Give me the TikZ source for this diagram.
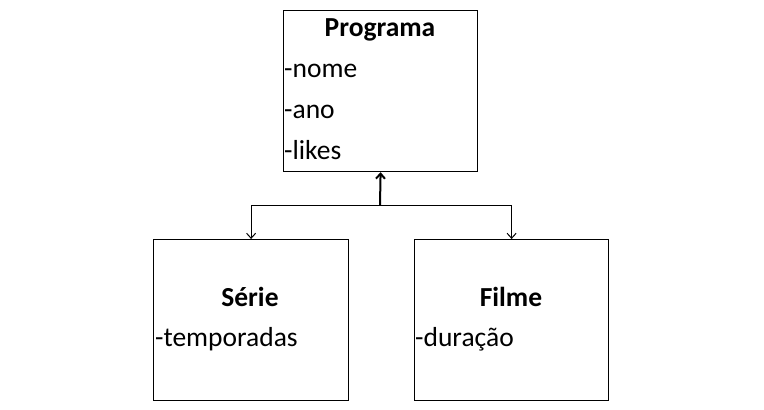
\documentclass[tikz,border=0pt]{standalone}
\usepackage{fontspec}
\setmainfont{Carlito}
\usetikzlibrary{arrows.meta}

\tikzset{
    classbox/.style={draw, line width=1.2pt, inner sep=0pt, anchor=north west},
    titletext/.style={anchor=base, inner sep=0pt, font=\fontsize{27.5}{32}\selectfont\bfseries},
    attrtext/.style={anchor=base west, inner sep=0pt, font=\fontsize{27.5}{32}\selectfont},
    barb/.style={-{Straight Barb[length=5pt, width=9pt]}},
}

\begin{document}
\begin{tikzpicture}[x=1pt, y=-1pt]
        \useasboundingbox (0,0) rectangle (764,410);
        % classes
        \node[classbox, minimum width=194pt, minimum height=161pt] (prog) at (283,10){};
        \node[classbox, minimum width=195pt, minimum height=161pt] (serie) at (153,239){};
        \node[classbox, minimum width=194pt, minimum height=161pt] (filme) at (414,239){};
        % textos
        \node[titletext] (progtitle) at (380,36){Programa};
        \node[attrtext] (nome) at (284,77){-nome};
        \node[attrtext] (ano) at (284,118){-ano};
        \node[attrtext] (likes) at (284,159){-likes};
        \node[titletext] (serietitle) at (250,306){Série};
        \node[attrtext] (temp) at (155,346){-temporadas};
        \node[titletext] (filmetitle) at (511,306){Filme};
        \node[attrtext] (dur) at (415,346){-duração};
        % heranca
        \coordinate (junc) at (380,205);
        \draw[line width=2pt, barb] (junc) -- (prog.south);
        \draw[line width=1pt, barb] (junc) -| (serie.north);
        \draw[line width=1pt, barb] (junc) -| (filme.north);
\end{tikzpicture}
\end{document}
